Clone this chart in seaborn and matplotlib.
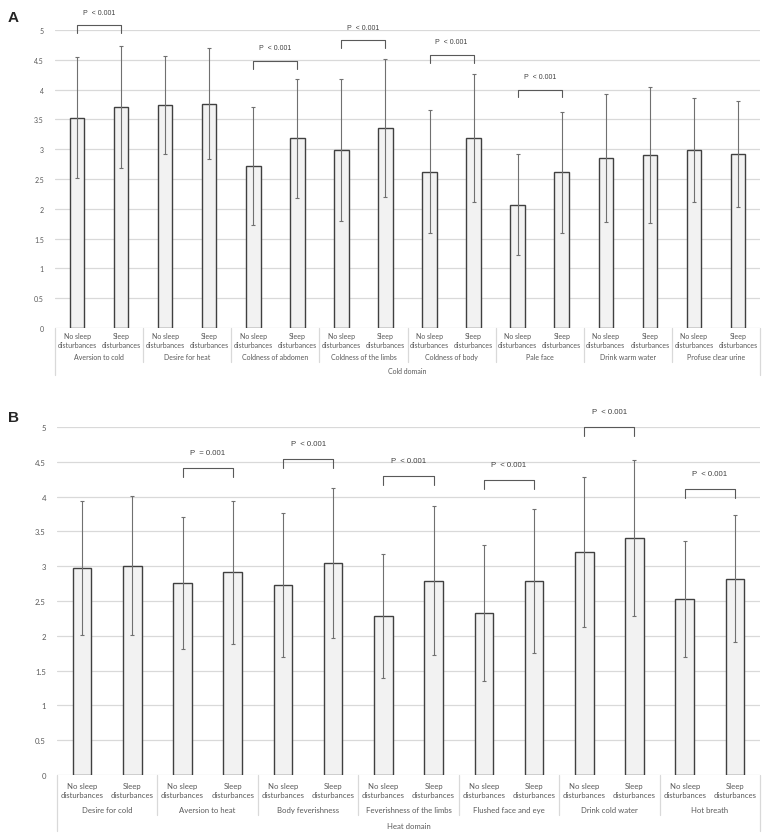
import matplotlib
matplotlib.use("Agg")
import matplotlib.pyplot as plt
import seaborn as sns
import pandas as pd
import numpy as np

# ---------------- data ----------------
groups = ["No sleep\ndisturbances", "Sleep\ndisturbances"]

cold_symptoms = ["Aversion to cold", "Desire for heat", "Coldness of abdomen",
                 "Coldness of the limbs", "Coldness of body", "Pale face",
                 "Drink warm water", "Profuse clear urine"]
cold_no_mean = [3.53, 3.74, 2.72, 2.99, 2.62, 2.07, 2.85, 2.99]
cold_no_sd = [1.01, 0.82, 0.99, 1.19, 1.03, 0.85, 1.07, 0.87]
cold_yes_mean = [3.71, 3.76, 3.18, 3.36, 3.19, 2.61, 2.91, 2.92]
cold_yes_sd = [1.02, 0.93, 1.00, 1.16, 1.07, 1.02, 1.14, 0.89]
cold_sig = {"Aversion to cold": ("P  < 0.001", 5.08),
            "Coldness of abdomen": ("P  < 0.001", 4.48),
            "Coldness of the limbs": ("P  < 0.001", 4.83),
            "Coldness of body": ("P  < 0.001", 4.58),
            "Pale face": ("P  < 0.001", 4.00)}

heat_symptoms = ["Desire for cold", "Aversion to heat", "Body feverishness",
                 "Feverishness of the limbs", "Flushed face and eye",
                 "Drink cold water", "Hot breath"]
heat_no_mean = [2.97, 2.76, 2.73, 2.29, 2.33, 3.20, 2.53]
heat_no_sd = [0.96, 0.95, 1.04, 0.89, 0.98, 1.08, 0.83]
heat_yes_mean = [3.01, 2.91, 3.05, 2.79, 2.79, 3.41, 2.82]
heat_yes_sd = [1.00, 1.03, 1.08, 1.07, 1.03, 1.12, 0.91]
heat_sig = {"Aversion to heat": ("P  = 0.001", 4.41),
            "Body feverishness": ("P  < 0.001", 4.54),
            "Feverishness of the limbs": ("P  < 0.001", 4.30),
            "Flushed face and eye": ("P  < 0.001", 4.24),
            "Drink cold water": ("P  < 0.001", 5.00),
            "Hot breath": ("P  < 0.001", 4.11)}

yticks = [0, 0.5, 1, 1.5, 2, 2.5, 3, 3.5, 4, 4.5, 5]
ytick_labels = ["0", "0.5", "1", "1.5", "2", "2.5", "3", "3.5", "4", "4.5", "5"]

# ---------------- style ----------------
sns.set_theme(style="white")
plt.rcParams["font.family"] = ["Lato", "DejaVu Sans"]

TXT = "#595959"
GRID = "#d9d9d9"

fig = plt.figure(figsize=(7.69, 8.37), dpi=100)


def panel(rect, symptoms, no_mean, no_sd, yes_mean, yes_sd, sig, domain,
          bar_w, fs, rows):
    ax = fig.add_axes(rect)
    rec = []
    for i, s in enumerate(symptoms):
        rec.append({"slot": f"{s}|0", "mean": no_mean[i], "sd": no_sd[i]})
        rec.append({"slot": f"{s}|1", "mean": yes_mean[i], "sd": yes_sd[i]})
    df = pd.DataFrame(rec)
    order = list(df["slot"])
    sns.barplot(data=df, x="slot", y="mean", order=order, ax=ax,
                color="#f2f2f2", edgecolor="#404040", linewidth=1.0,
                width=bar_w, errorbar=None, saturation=1)
    xs = np.arange(len(df))
    ax.errorbar(xs, df["mean"], yerr=df["sd"], fmt="none",
                ecolor="#707070", elinewidth=0.8, capsize=1.6, capthick=0.8,
                zorder=3)
    n = len(df)
    ax.set_xlim(-0.5, n - 0.5)
    ax.set_ylim(0, 5)
    ax.set_yticks(yticks)
    ax.set_yticklabels(ytick_labels)
    ax.tick_params(axis="y", length=0, labelsize=fs, colors=TXT, pad=8)
    ax.set_xticks([])
    ax.set_xlabel("")
    ax.set_ylabel("")
    for sp in ax.spines.values():
        sp.set_visible(False)
    for y in yticks:
        ax.axhline(y, color=GRID, lw=0.9, zorder=0)
    ax.set_axisbelow(True)

    tr = ax.get_xaxis_transform()
    r1, r2, r3, sep, outer = rows
    for i, s in enumerate(symptoms):
        for j in range(2):
            ax.text(2 * i + j, r1, groups[j], transform=tr, ha="center",
                    va="center", fontsize=fs, color=TXT, linespacing=1.3)
        ax.text(2 * i + 0.5, r2, s, transform=tr, ha="center", va="center",
                fontsize=fs, color=TXT)
    ax.text((n - 1) / 2, r3, domain, transform=tr, ha="center", va="center",
            fontsize=fs, color=TXT)
    for k in range(1, len(symptoms)):
        ax.plot([2 * k - 0.5] * 2, [0, sep], transform=tr, color=GRID,
                lw=0.9, clip_on=False)
    for xv in (-0.5, n - 0.5):
        ax.plot([xv] * 2, [0, outer], transform=tr, color=GRID, lw=0.9,
                clip_on=False)

    for i, s in enumerate(symptoms):
        if s in sig:
            lab, h = sig[s]
            x0, x1 = 2 * i, 2 * i + 1
            leg = 0.13
            ax.plot([x0, x0, x1, x1], [h - leg, h, h, h - leg],
                    color="#595959", lw=0.8, clip_on=False)
            ax.text((x0 + x1) / 2, h + 0.22, lab, ha="center", va="center",
                    fontsize=fs, color="#404040", family="Liberation Sans",
                    clip_on=False)
    return ax


axA = panel([55 / 769, 1 - 329 / 837, 705 / 769, 298 / 837],
            cold_symptoms, cold_no_mean, cold_no_sd, cold_yes_mean,
            cold_yes_sd, cold_sig, "Cold domain", 0.33, 5.0,
            (-0.04, -0.097, -0.141, -0.114, -0.158))
axB = panel([57 / 769, 1 - 776 / 837, 703 / 769, 348 / 837],
            heat_symptoms, heat_no_mean, heat_no_sd, heat_yes_mean,
            heat_yes_sd, heat_sig, "Heat domain", 0.37, 5.6,
            (-0.043, -0.098, -0.144, -0.115, -0.161))

fig.text(8 / 769, 1 - 18 / 837, "A", fontsize=11, fontweight="bold",
         family="Liberation Sans", va="center", ha="left")
fig.text(8 / 769, 1 - 418 / 837, "B", fontsize=11, fontweight="bold",
         family="Liberation Sans", va="center", ha="left")

fig.savefig("out.png", dpi=100, facecolor="white")
